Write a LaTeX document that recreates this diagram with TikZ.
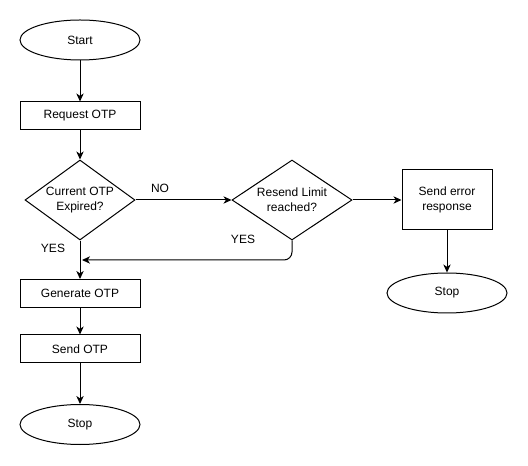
\documentclass[tikz,border=0pt]{standalone}
\usepackage{fontspec}
\setmainfont{Liberation Sans}
\usetikzlibrary{shapes.geometric,arrows.meta}
\begin{document}
\begin{tikzpicture}[x=0.75pt,y=-0.75pt,
  font=\fontsize{9pt}{11.25pt}\selectfont,
  every path/.style={line width=0.75pt},
  term/.style={draw,ellipse,minimum width=90pt,minimum height=30pt,inner sep=0pt},
  proc/.style={draw,rectangle,minimum width=90pt,minimum height=21pt,inner sep=0pt,align=center},
  dec/.style={draw,diamond,aspect=1.375,inner sep=0pt,align=center},
  arr/.style={-{Stealth[length=6pt,width=5.5pt,inset=1.8pt]}},
  lbl/.style={inner sep=0pt}]
\useasboundingbox (0,0) rectangle (528,466);
\node[term] (start) at (80,40) {Start};
\node[proc] (req) at (80,116) {Request OTP};
\node[dec,minimum width=82.5pt,minimum height=60pt] (d1) at (80,200) {Current OTP\\Expired?};
\node[dec,minimum width=90pt,minimum height=60pt] (d2) at (292,200) {Resend Limit\\reached?};
\node[proc,minimum width=67.5pt,minimum height=45pt] (err) at (447,200) {Send error\\response};
\node[term] (stop2) at (447,293) {Stop};
\node[proc] (gen) at (80,293.5) {Generate OTP};
\node[proc] (send) at (80,349) {Send OTP};
\node[term] (stop) at (80,424.5) {Stop};
\coordinate (j) at (80,260);
\node[lbl] (no) at (160,188) {NO};
\node[lbl] (yes1) at (53,248) {YES};
\node[lbl] (yes2) at (243,239) {YES};
\draw[arr] (start) -- (req);
\draw[arr] (req) -- (d1);
\draw[arr] (d1) -- (d2);
\draw[arr] (d2) -- (err);
\draw[arr] (err) -- (stop2);
\draw[arr] (d1) -- (gen);
\draw[arr] (gen) -- (send);
\draw[arr] (send) -- (stop);
\draw[arr,rounded corners=6pt] (d2.south) |- ([xshift=1.5pt]j);
\end{tikzpicture}
\end{document}
